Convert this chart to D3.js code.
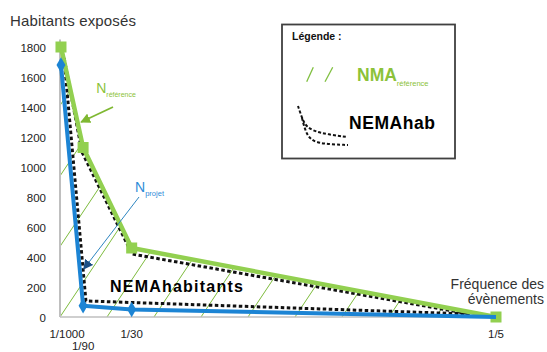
<!DOCTYPE html>
<html><head><meta charset="utf-8">
<script src="https://cdn.jsdelivr.net/npm/d3@7"></script>
<style>
body{margin:0;background:#fff;}
text{font-family:"Liberation Sans",Arial,sans-serif;}
</style></head>
<body><svg id="c" width="547" height="352"></svg>
<script>
// ---- data ----
const xLabels = ["1/1000", "1/90", "1/30", "1/5"];
const xFreq = [1/1000, 1/90, 1/30, 1/5];
const nReference = [1800, 1130, 460, 0];
const nProjet = [1680, 75, 50, 0];
const yTicks = [0, 200, 400, 600, 800, 1000, 1200, 1400, 1600, 1800];
// NEMA habitants dashed contour
const nemaFreq = [0.0024, 0.0106, 0.0335, 0.188, 0.0124, 0.0024];
const nemaHab = [1727, 1100, 420, 20, 107, 1727];

const svg = d3.select("#c");
const x = d3.scaleLinear().domain([0, 0.2]).range([58.8, 496]);
const y = d3.scaleLinear().domain([0, 1800]).range([317, 47]);

const green = "#92D050", blue = "#1c84d4", txtGreen = "#8cc23a";

// hatch clip: area under reference curve
const refPts = xFreq.map((f, i) => [x(f), y(nReference[i])]);
const clipPoly = [[x(0) + 1.2, y(nReference[0])], ...refPts, [x(0.2), y(0)], [x(0) + 1.2, y(0)]];
svg.append("clipPath").attr("id", "hclip").append("path")
  .attr("d", "M" + clipPoly.map(p => p.join(",")).join("L") + "Z");
const hatch = svg.append("g").attr("clip-path", "url(#hclip)");
const step = 47, slope = 1.5;
for (let xi = x(0.001) - 1 - 3 * step; xi < x(0.2); xi += step) {
  hatch.append("line").attr("x1", xi).attr("y1", y(0))
    .attr("x2", xi + 400 / slope).attr("y2", y(0) - 400)
    .attr("stroke", "#7dbb3c").attr("stroke-width", 1);
}

// axes lines
svg.append("line").attr("x1", 60).attr("x2", 60).attr("y1", y(1850)).attr("y2", y(0))
  .attr("stroke", "#bfbfbf").attr("stroke-width", 2);
svg.append("line").attr("x1", 60).attr("x2", x(0.2)).attr("y1", y(0)).attr("y2", y(0))
  .attr("stroke", "#bfbfbf").attr("stroke-width", 1.5);

// y tick labels
svg.append("g").selectAll("text").data(yTicks).join("text")
  .attr("x", 46).attr("y", d => y(d)).attr("dy", "0.4em")
  .attr("text-anchor", "end").attr("font-size", 11.5).attr("fill", "#222")
  .text(d => d);

// x tick labels
svg.append("g").selectAll("text").data(xLabels).join("text")
  .attr("x", (d, i) => x(xFreq[i]) + (i === 0 ? 6 : 0))
  .attr("y", (d, i) => i === 1 ? 350 : 338)
  .attr("text-anchor", "middle").attr("font-size", 11.5).attr("fill", "#222")
  .text(d => d);

// axis titles
svg.append("text").attr("x", 10).attr("y", 26).attr("font-size", 15).attr("fill", "#333")
  .attr("textLength", 126).text("Habitants exposés");
svg.append("text").attr("x", 544).attr("y", 289).attr("text-anchor", "end")
  .attr("font-size", 14).attr("fill", "#333").text("Fréquence des");
svg.append("text").attr("x", 544).attr("y", 304).attr("text-anchor", "end")
  .attr("font-size", 14).attr("fill", "#333").text("évènements");

// NEMA dashed contour
const line = d3.line().x(d => x(d[0])).y(d => y(d[1]));
svg.append("path").datum(nemaFreq.map((f, i) => [f, nemaHab[i]]))
  .attr("d", line).attr("fill", "none").attr("stroke", "#111")
  .attr("stroke-width", 3).attr("stroke-dasharray", "3.5 2.5");

// reference (green)
svg.append("path").datum(xFreq.map((f, i) => [f, nReference[i]]))
  .attr("d", line).attr("fill", "none").attr("stroke", green).attr("stroke-width", 4.5)
  .attr("stroke-linejoin", "round");
svg.append("g").selectAll("rect").data(xFreq).join("rect")
  .attr("x", (d, i) => x(d) - 5.5).attr("y", (d, i) => y(nReference[i]) - 5.5)
  .attr("width", 11).attr("height", 11).attr("fill", green);

// projet (blue)
svg.append("path").datum(xFreq.map((f, i) => [f, nProjet[i]]))
  .attr("d", line).attr("fill", "none").attr("stroke", blue).attr("stroke-width", 4)
  .attr("stroke-linejoin", "round");
svg.append("g").selectAll("path").data(xFreq.slice(0, 3)).join("path")
  .attr("d", d3.symbol(d3.symbolDiamond, 70))
  .attr("transform", (d, i) => `translate(${x(d)},${y(nProjet[i])})`)
  .attr("fill", blue);

// arrows
const defs = svg.append("defs");
defs.append("marker").attr("id", "ag").attr("viewBox", "0 0 10 10").attr("refX", 9).attr("refY", 5)
  .attr("markerWidth", 10).attr("markerHeight", 10).attr("markerUnits", "userSpaceOnUse")
  .attr("orient", "auto").append("path").attr("d", "M0,0L10,5L0,10Z").attr("fill", "#7fb832");
defs.append("marker").attr("id", "ab").attr("viewBox", "0 0 10 10").attr("refX", 9).attr("refY", 5)
  .attr("markerWidth", 10).attr("markerHeight", 10).attr("markerUnits", "userSpaceOnUse")
  .attr("orient", "auto").append("path").attr("d", "M0,0L10,5L0,10Z").attr("fill", "#1b4f86");
svg.append("line").attr("x1", x(0.0248)).attr("y1", y(1400)).attr("x2", x(0.0102)).attr("y2", y(1300))
  .attr("stroke", "#7fb832").attr("stroke-width", 1.8).attr("marker-end", "url(#ag)");
svg.append("line").attr("x1", x(0.0367)).attr("y1", y(800)).attr("x2", x(0.0114)).attr("y2", y(320))
  .attr("stroke", "#2e86c1").attr("stroke-width", 1).attr("marker-end", "url(#ab)");

// annotations
const tRef = svg.append("text").attr("x", x(0.0171)).attr("y", y(1493)).attr("fill", txtGreen);
tRef.append("tspan").attr("font-size", 14).text("N");
tRef.append("tspan").attr("font-size", 7).attr("dy", 4).text("référence");
const tPrj = svg.append("text").attr("x", x(0.0349)).attr("y", y(833)).attr("fill", "#2e8bd8");
tPrj.append("tspan").attr("font-size", 14).text("N");
tPrj.append("tspan").attr("font-size", 7.5).attr("dy", 3.5).text("projet");
svg.append("text").attr("x", x(0.0234)).attr("y", y(167)).attr("font-size", 16)
  .attr("font-weight", "bold").attr("fill", "#000").attr("textLength", 133).text("NEMAhabitants");

// legend
const lg = svg.append("g");
lg.append("rect").attr("x", 282).attr("y", 24.5).attr("width", 173).attr("height", 134)
  .attr("fill", "#fff").attr("stroke", "#404040").attr("stroke-width", 1.8);
lg.append("text").attr("x", 292).attr("y", 40).attr("font-size", 10.5).attr("font-weight", "bold")
  .attr("fill", "#111").text("Légende :");
lg.append("line").attr("x1", 306.7).attr("y1", 81.7).attr("x2", 313.3).attr("y2", 67.3)
  .attr("stroke", "#7fbf3f").attr("stroke-width", 1.3);
lg.append("line").attr("x1", 325).attr("y1", 81.7).attr("x2", 332.7).attr("y2", 67.3)
  .attr("stroke", "#7fbf3f").attr("stroke-width", 1.3);
const tl = lg.append("text").attr("x", 357).attr("y", 80.5).attr("fill", txtGreen);
tl.append("tspan").attr("font-size", 17.5).attr("font-weight", "bold").text("NMA");
tl.append("tspan").attr("font-size", 7.5).attr("dy", 5).text("référence");
lg.append("text").attr("x", 349).attr("y", 128.5).attr("font-size", 17.5).attr("font-weight", "bold")
  .attr("fill", "#000").attr("textLength", 86).text("NEMAhab");
const curve = d3.line().curve(d3.curveBasis);
lg.append("path").attr("d", curve([[298, 106], [302, 118], [306, 127], [318, 133], [347, 137]]))
  .attr("fill", "none").attr("stroke", "#111").attr("stroke-width", 2).attr("stroke-dasharray", "3 2");
lg.append("path").attr("d", curve([[302, 118], [305, 130], [310, 140], [322, 144], [348, 145]]))
  .attr("fill", "none").attr("stroke", "#111").attr("stroke-width", 2).attr("stroke-dasharray", "3 2");
</script></body></html>
